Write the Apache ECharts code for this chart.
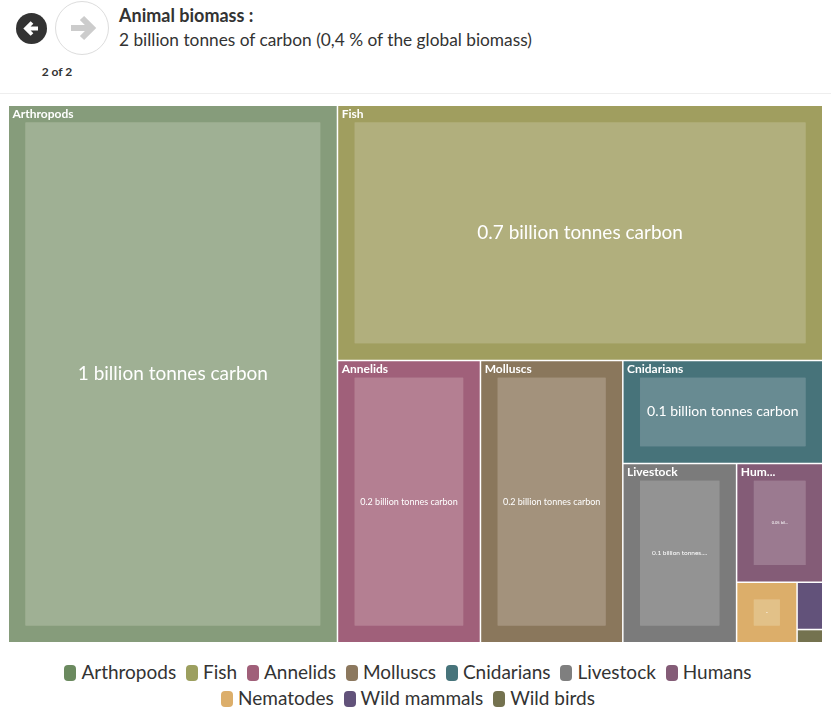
<!DOCTYPE html>
<html><head><meta charset="utf-8">
<style>
html,body{margin:0;padding:0;background:#fff;width:831px;height:712px;overflow:hidden;font-family:Lato,sans-serif;color:#333;}
#chart{position:absolute;left:0;top:100px;width:831px;height:548px;}
#rule{position:absolute;left:0;right:0;top:93px;height:1px;background:#eee;}
.btn{position:absolute;border-radius:50%;box-sizing:border-box;}
#back{left:16px;top:13px;width:31px;height:31px;background:#333;}
#next{left:55px;top:1px;width:54px;height:54px;border:1px solid #ddd;background:#fff;}
#count{position:absolute;left:30px;top:64px;width:54px;text-align:center;font:700 12px Lato,sans-serif;color:#333;}
#t1{position:absolute;left:119px;top:4px;font:700 18px Lato,sans-serif;color:#333;white-space:nowrap;}
#t2{position:absolute;left:119px;top:29px;font:400 17.3px Lato,sans-serif;color:#333;white-space:nowrap;}
#legend{position:absolute;left:38px;width:740px;top:659px;text-align:center;font:400 19px/26px Lato,sans-serif;color:#333;}
.li{display:inline-block;white-space:nowrap;margin:0 2.5px;}
.sw{display:inline-block;width:12px;height:16px;border-radius:4px;vertical-align:-2px;margin-right:5px;}
</style></head><body>
<div id="back" class="btn"><svg width="31" height="31" viewBox="0 0 31 31"><path d="M22 15.5H11M16 9.5l-6 6 6 6" fill="none" stroke="#fff" stroke-width="3.8"/></svg></div>
<div id="next" class="btn"><svg width="52" height="52" viewBox="0 0 52 52"><path d="M15 26H35M26 16l10 10-10 10" fill="none" stroke="#ccc" stroke-width="6"/></svg></div>
<div id="count">2 of 2</div>
<div id="t1">Animal biomass :</div>
<div id="t2">2 billion tonnes of carbon (0,4 % of the global biomass)</div>
<div id="rule"></div>
<div id="chart"></div>
<div id="legend"></div>
<script src="https://cdn.jsdelivr.net/npm/echarts@6/dist/echarts.min.js"></script>
<script>
const categories=["Arthropods","Fish","Annelids","Molluscs","Cnidarians","Livestock","Humans","Nematodes","Wild mammals","Wild birds"];
const values=[0.993,0.695,0.2265,0.2255,0.1155,0.1145,0.0575,0.0205,0.0068,0.0019];
const headerLabels=["Arthropods","Fish","Annelids","Molluscs","Cnidarians","Livestock","Hum...","","",""];
const valueLabels=["1 billion tonnes carbon","0.7 billion tonnes carbon","0.2 billion tonnes carbon","0.2 billion tonnes carbon","0.1 billion tonnes carbon","0.1 billion tonnes....","0.05 bil...","-","",""];
const swatchColors=["#6b8a5f","#9c9f5f","#a05f79","#8c785e","#47747b","#7f7f7f","#845c77","#dcae6a","#62527a","#74724f"];
const cellColors=["#869c7b","#a09e5f","#a0607a","#8a775c","#47737a","#7b7b7b","#845c77","#dcae6a","#62527a","#74724f"];
const innerColors=["#9fb094","#b1af7d","#b47f92","#a3927c","#688b92","#939393","#9b7a90","#e2c188","#62527a","#74724f"];
const labelSizes=[19,19,9,9,14,6.5,4,6,1,1];

document.getElementById('legend').innerHTML=categories.map((c,i)=>`<span class="li"><span class="sw" style="background:${swatchColors[i]}"></span>${c}</span>`).join(' ');

const chart=echarts.init(document.getElementById('chart'),null,{renderer:'canvas'});
chart.setOption({
 animation:false,
 tooltip:{show:false},
 series:[{
  type:'treemap',left:9,top:6,width:813,height:536,roam:false,nodeClick:false,squareRatio:1,
  breadcrumb:{show:false},
  visibleMin:0,childrenVisibleMin:0,
  levels:[
   {itemStyle:{borderWidth:0,gapWidth:1.5,gapColor:'#fff'}},
   {itemStyle:{borderWidth:16.5,gapWidth:0},upperLabel:{show:true,height:16,color:'#fff',fontFamily:'Lato',fontWeight:'bold',fontSize:12,offset:[-13,0]}},
   {itemStyle:{borderWidth:0,gapWidth:0},label:{show:true,position:'inside',align:'center',verticalAlign:'middle',color:'#fff',fontFamily:'Lato'}}
  ],
  data:categories.map((name,i)=>({
    name,value:values[i],
    itemStyle:{color:cellColors[i],borderColor:cellColors[i]},
    upperLabel:{show:!!headerLabels[i],formatter:()=>headerLabels[i]},
    children:[{name:valueLabels[i],value:values[i],
      itemStyle:{color:innerColors[i],borderColor:innerColors[i]},
      label:{show:!!valueLabels[i],fontSize:labelSizes[i],position:'inside',overflow:'none',formatter:'{b}'}
    }]
  }))
 }]
});
</script></body></html>
